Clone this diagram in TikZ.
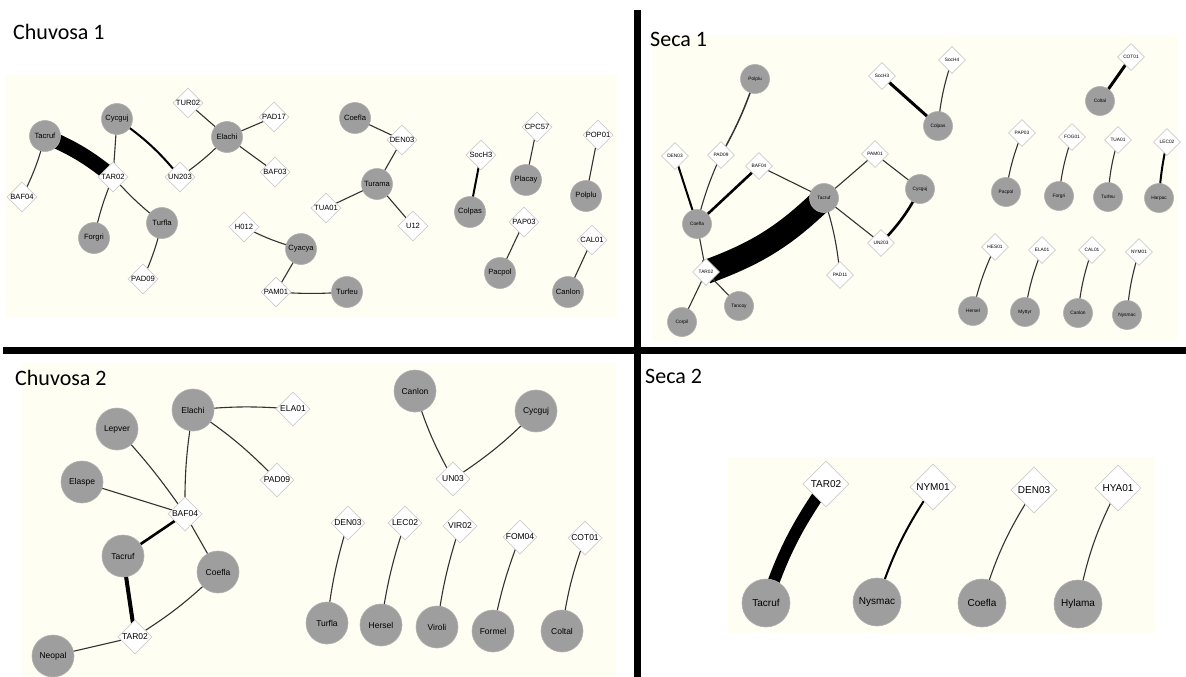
\documentclass[tikz,border=0pt]{standalone}
\usepackage{fontspec}
\setmainfont{Liberation Sans}
\newfontfamily\titlefont{Carlito}
\usetikzlibrary{shapes.geometric}

\definecolor{panelcol}{RGB}{254,254,243}
\definecolor{nodefill}{RGB}{158,158,158}
\definecolor{nodeedge}{RGB}{175,175,175}
\definecolor{diaedge}{RGB}{205,205,205}
\definecolor{linkcol}{RGB}{50,50,50}

\pgfdeclarelayer{panel}
\pgfdeclarelayer{links}
\pgfsetlayers{panel,links,main}

\tikzset{
  sp/.style={circle, fill=nodefill, draw=nodeedge, line width=0.6pt, inner sep=0pt, minimum size=#1},
  hp/.style={diamond, fill=white, draw=diaedge, line width=0.7pt, inner sep=0pt, minimum size=#1},
  % panel-specific node sizes and fonts
  aS/.style={sp=31, font=\fontsize{7.6}{8}\selectfont},
  aH/.style={hp=30, label={[font=\fontsize{7.6}{8}\selectfont, inner sep=0pt]center:#1}},
  bS/.style={sp=29, font=\fontsize{4.8}{5}\selectfont},
  bH/.style={hp=27, label={[font=\fontsize{4.8}{5}\selectfont, inner sep=0pt]center:#1}},
  cS/.style={sp=42, font=\fontsize{8.5}{9}\selectfont},
  cH/.style={hp=34, label={[font=\fontsize{8.5}{9}\selectfont, inner sep=0pt]center:#1}},
  dS/.style={sp=48, font=\fontsize{10}{11}\selectfont},
  dH/.style={hp=46, label={[font=\fontsize{10}{11}\selectfont, inner sep=0pt]center:#1}},
  lk/.style={draw=linkcol, line width=1.1pt},
  lkm/.style={draw=black, line width=2pt},
  lkt/.style={draw=black, line width=3pt},
  band/.style={draw=black, line width=#1},
  title/.style={font=\titlefont\fontsize{22}{24}\selectfont, anchor=base west, inner sep=0pt},
  divider/.style={draw=black, line width=7pt}
}

\begin{document}
\begin{tikzpicture}[x=1pt, y=-1pt]
\useasboundingbox (0,0) rectangle (1186,677);
\begin{pgfonlayer}{panel}
  \fill[white] (0,0) rectangle (1186,677);
  \fill[panelcol] (5,75) rectangle (617,318);
  \fill[panelcol] (652,35) rectangle (1178,342);
  \fill[panelcol] (22,363) rectangle (616,677);
  \fill[panelcol] (728,457) rectangle (1155,633);
\end{pgfonlayer}

% panel dividers
\draw[divider] (637,10) -- (637,677);
\draw[divider] (3,350) -- (1186,350);

% titles
\node[title] (t1) at (13,40) {Chuvosa 1};
\node[title] (t2) at (650,47) {Seca 1};
\node[title] (t3) at (15,385) {Chuvosa 2};
\node[title] (t4) at (645,383) {Seca 2};

% ---------------- Chuvosa 1 ----------------
\node[aS] (aTacruf) at (45,136) {Tacruf};
\node[aS] (aCycguj) at (117,119) {Cycguj};
\node[aS] (aElachi) at (227,137) {Elachi};
\node[aH=TUR02] (aTUR02) at (188,103) {};
\node[aH=PAD17] (aPAD17) at (274,117) {};
\node[aH=BAF03] (aBAF03) at (275,172) {};
\node[aH=TAR02] (aTAR02) at (113,177) {};
\node[aH=UN203] (aUN203) at (180,177) {};
\node[aH=BAF04] (aBAF04) at (22,197) {};
\node[aS] (aForgri) at (94,238) {Forgri};
\node[aS] (aTurfla) at (162,223) {Turfla};
\node[aH=PAD09] (aPAD09) at (143,279) {};
\node[aH=H012] (aH012) at (244,227) {};
\node[aS] (aCyacya) at (301,249) {Cyacya};
\node[aH=PAM01] (aPAM01) at (276,292) {};
\node[aS] (aTurfeu) at (347,292) {Turfeu};
\node[aS] (aCoefla) at (355,118) {Coefla};
\node[aH=DEN03] (aDEN03) at (402,140) {};
\node[aS] (aTurama) at (377,184) {Turama};
\node[aH=TUA01] (aTUA01) at (326,208) {};
\node[aH=U12] (aU12) at (413,226) {};
\node[aH=SocH3] (aSocH3) at (481,155) {};
\node[aS] (aColpas) at (470,212) {Colpas};
\node[aH=CPC57] (aCPC57) at (537,127) {};
\node[aS] (aPlacay) at (526,180) {Placay};
\node[aH=POP01] (aPOP01) at (598,135) {};
\node[aS] (aPolplu) at (586,196) {Polplu};
\node[aH=PAP03] (aPAP03) at (524,222) {};
\node[aS] (aPacpol) at (500,273) {Pacpol};
\node[aH=CAL01] (aCAL01) at (592,240) {};
\node[aS] (aCanlon) at (568,292) {Canlon};

% ---------------- Seca 1 ----------------
\node[bS] (bPolplu) at (755,79) {Polplu};
\node[bH=SocH3] (bSocH3) at (882,76) {};
\node[bH=PAD09] (bPAD09) at (721,155) {};
\node[bH=DEN03] (bDEN03) at (675,156) {};
\node[bH=BAF04] (bBAF04) at (759,166) {};
\node[bH=PAM01] (bPAM01) at (875,154) {};
\node[bS] (bTacruf) at (824,198) {Tacruf};
\node[bS] (bCycguj) at (920,189) {Cycguj};
\node[bS] (bCoefla) at (697,224) {Coefla};
\node[bH=UN203] (bUN203) at (881,243) {};
\node[bH=PAD11] (bPAD11) at (840,275) {};
\node[bH=TAR02] (bTAR02) at (706,272) {};
\node[bS] (bTancoy) at (739,306) {Tancoy};
\node[bS] (bCorpil) at (682,322) {Corpil};
\node[bS] (bColpas) at (938,126) {Colpas};
\node[bH=SocH4] (bSocH4) at (952,60) {};
\node[bH=COT01] (bCOT01) at (1131,57) {};
\node[bS] (bColtal) at (1100,101) {Coltal};
\node[bH=PAP03] (bPAP03) at (1022,133) {};
\node[bH=FOG01] (bFOG01) at (1072,137) {};
\node[bH=TUA01] (bTUA01) at (1118,140) {};
\node[bH=LEC02] (bLEC02) at (1167,142) {};
\node[bS] (bPacpol) at (1006,192) {Pacpol};
\node[bS] (bForgri) at (1059,196) {Forgri};
\node[bS] (bTurfeu) at (1108,197) {Turfeu};
\node[bS] (bHarpac) at (1159,198) {Harpac};
\node[bH=HES01] (bHES01) at (995,247) {};
\node[bH=ELA01] (bELA01) at (1042,250) {};
\node[bH=CAL01] (bCAL01) at (1092,250) {};
\node[bH=NYM01] (bNYM01) at (1139,252) {};
\node[bS] (bHersel) at (973,311) {Hersel};
\node[bS] (bMyttyr) at (1025,312) {Myttyr};
\node[bS] (bCanlon) at (1078,313) {Canlon};
\node[bS] (bNysmac) at (1127,315) {Nysmac};

% ---------------- Chuvosa 2 ----------------
\node[cS] (cElachi) at (193,410) {Elachi};
\node[cH=ELA01] (cELA01) at (293,409) {};
\node[cS] (cLepver) at (117,429) {Lepver};
\node[cS] (cElaspe) at (82,482) {Elaspe};
\node[cH=PAD09] (cPAD09) at (277,480) {};
\node[cH=BAF04] (cBAF04) at (185,514) {};
\node[cS] (cTacruf) at (123,556) {Tacruf};
\node[cS] (cCoefla) at (218,572) {Coefla};
\node[cH=TAR02] (cTAR02) at (135,637) {};
\node[cS] (cNeopal) at (53,656) {Neopal};
\node[cS] (cCanlon) at (415,391) {Canlon};
\node[cS] (cCycguj) at (536,411) {Cycguj};
\node[cH=UN03] (cUN03) at (453,479) {};
\node[cH=DEN03] (cDEN03) at (348,523) {};
\node[cH=LEC02] (cLEC02) at (405,523) {};
\node[cH=VIR02] (cVIR02) at (460,526) {};
\node[cH=FOM04] (cFOM04) at (520,537) {};
\node[cH=COT01] (cCOT01) at (585,538) {};
\node[cS] (cTurfla) at (327,623) {Turfla};
\node[cS] (cHersel) at (381,625) {Hersel};
\node[cS] (cViroli) at (437,627) {Viroli};
\node[cS] (cFormel) at (493,631) {Formel};
\node[cS] (cColtal) at (562,631) {Coltal};

% ---------------- Seca 2 ----------------
\node[dH=TAR02] (dTAR02) at (826,484) {};
\node[dS] (dTacruf) at (766,603) {Tacruf};
\node[dH=NYM01] (dNYM01) at (933,487) {};
\node[dS] (dNysmac) at (877,602) {Nysmac};
\node[dH=DEN03] (dDEN03) at (1034,490) {};
\node[dS] (dCoefla) at (982,603) {Coefla};
\node[dH=HYA01] (dHYA01) at (1118,488) {};
\node[dS] (dHylama) at (1078,604) {Hylama};

\begin{pgfonlayer}{links}
  % Chuvosa 1
  \draw[band=15pt] (aTacruf.center) to[bend left=8] (aTAR02.center);
  \draw[lk] (aCycguj.center) -- (aTAR02.center);
  \draw[lkm] (aCycguj.center) to[bend left=8] (aUN203.center);
  \draw[lk] (aUN203.center) to[bend right=5] (aElachi.center);
  \draw[lk] (aElachi.center) -- (aTUR02.center);
  \draw[lk] (aElachi.center) -- (aPAD17.center);
  \draw[lk] (aElachi.center) -- (aBAF03.center);
  \draw[lk] (aTacruf.center) to[bend left=6] (aBAF04.center);
  \draw[lk] (aTAR02.center) to[bend right=5] (aForgri.center);
  \draw[lk] (aTAR02.center) to[bend right=5] (aTurfla.center);
  \draw[lk] (aTurfla.center) to[bend left=5] (aPAD09.center);
  \draw[lk] (aH012.center) to[bend right=6] (aCyacya.center);
  \draw[lk] (aCyacya.center) -- (aPAM01.center);
  \draw[lk] (aPAM01.center) to[bend right=4] (aTurfeu.center);
  \draw[lk] (aCoefla.center) -- (aDEN03.center);
  \draw[lk] (aDEN03.center) -- (aTurama.center);
  \draw[lk] (aTurama.center) -- (aTUA01.center);
  \draw[lk] (aTurama.center) -- (aU12.center);
  \draw[lkm] (aSocH3.center) -- (aColpas.center);
  \draw[lk] (aCPC57.center) -- (aPlacay.center);
  \draw[lk] (aPOP01.center) -- (aPolplu.center);
  \draw[lk] (aPAP03.center) -- (aPacpol.center);
  \draw[lk] (aCAL01.center) -- (aCanlon.center);

  % Seca 1
  \draw[band=24pt] (bTAR02.center) to[bend right=12] (bTacruf.center);
  \draw[lk, line width=1.5pt] (bPolplu.center) to[bend left=5] (bPAD09.center);
  \draw[lk] (bPAD09.center) to[bend right=5] (bCoefla.center);
  \draw[lkm] (bDEN03.center) -- (bCoefla.center);
  \draw[lkt, line width=2.6pt] (bBAF04.center) -- (bCoefla.center);
  \draw[lk] (bBAF04.center) -- (bTacruf.center);
  \draw[lk] (bCoefla.center) -- (bTAR02.center);
  \draw[lk] (bTAR02.center) -- (bTancoy.center);
  \draw[lk] (bTAR02.center) -- (bCorpil.center);
  \draw[lk] (bTacruf.center) -- (bPAM01.center);
  \draw[lk] (bPAM01.center) -- (bCycguj.center);
  \draw[lk] (bTacruf.center) -- (bUN203.center);
  \draw[lkt, line width=2.6pt] (bUN203.center) to[bend right=8] (bCycguj.center);
  \draw[lk] (bTacruf.center) to[bend left=6] (bPAD11.center);
  \draw[lkt] (bSocH3.center) -- (bColpas.center);
  \draw[lk] (bSocH4.center) to[bend right=6] (bColpas.center);
  \draw[lkt] (bCOT01.center) -- (bColtal.center);
  \draw[lk] (bPAP03.center) to[bend right=6] (bPacpol.center);
  \draw[lk] (bFOG01.center) to[bend right=6] (bForgri.center);
  \draw[lk] (bTUA01.center) to[bend right=6] (bTurfeu.center);
  \draw[lkm] (bLEC02.center) to[bend right=4] (bHarpac.center);
  \draw[lk] (bHES01.center) to[bend right=6] (bHersel.center);
  \draw[lk] (bELA01.center) to[bend right=6] (bMyttyr.center);
  \draw[lk] (bCAL01.center) to[bend right=6] (bCanlon.center);
  \draw[lk] (bNYM01.center) to[bend right=6] (bNysmac.center);

  % Chuvosa 2
  \draw[lk] (cElachi.center) to[bend left=5] (cELA01.center);
  \draw[lk] (cElachi.center) to[bend left=6] (cPAD09.center);
  \draw[lk] (cElachi.center) to[bend right=5] (cBAF04.center);
  \draw[lk] (cLepver.center) to[bend left=4] (cBAF04.center);
  \draw[lk] (cElaspe.center) -- (cBAF04.center);
  \draw[lkt, line width=2.6pt] (cBAF04.center) -- (cTacruf.center);
  \draw[lk] (cBAF04.center) -- (cCoefla.center);
  \draw[lkt, line width=4pt] (cTacruf.center) -- (cTAR02.center);
  \draw[lk] (cCoefla.center) to[bend left=6] (cTAR02.center);
  \draw[lk] (cTAR02.center) -- (cNeopal.center);
  \draw[lk] (cCanlon.center) to[bend right=6] (cUN03.center);
  \draw[lk] (cCycguj.center) to[bend left=6] (cUN03.center);
  \draw[lk] (cDEN03.center) to[bend right=5] (cTurfla.center);
  \draw[lk] (cLEC02.center) to[bend right=5] (cHersel.center);
  \draw[lk] (cVIR02.center) to[bend right=5] (cViroli.center);
  \draw[lk] (cFOM04.center) to[bend right=5] (cFormel.center);
  \draw[lk] (cCOT01.center) to[bend right=6] (cColtal.center);

  % Seca 2
  \draw[band=12pt] (dTAR02.center) to[bend right=8] (dTacruf.center);
  \draw[lkm] (dNYM01.center) to[bend right=8] (dNysmac.center);
  \draw[lk] (dDEN03.center) to[bend right=8] (dCoefla.center);
  \draw[lk] (dHYA01.center) to[bend right=8] (dHylama.center);
\end{pgfonlayer}
\end{tikzpicture}
\end{document}
